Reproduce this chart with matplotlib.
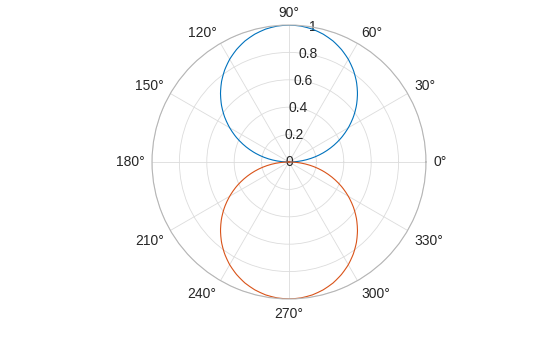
import numpy as np
import matplotlib
matplotlib.use('Agg')
import matplotlib.pyplot as plt

plt.rcParams['font.family'] = ['Liberation Sans', 'DejaVu Sans']

# angles in degrees, radius (upper lobe, 0..180)
deg_top = list(range(0, 181, 5))
r_top = [0, 0.087, 0.174, 0.259, 0.342, 0.423, 0.5, 0.574, 0.643, 0.707,
         0.766, 0.819, 0.866, 0.906, 0.94, 0.966, 0.985, 0.996, 1.0,
         0.996, 0.985, 0.966, 0.94, 0.906, 0.866, 0.819, 0.766, 0.707,
         0.643, 0.574, 0.5, 0.423, 0.342, 0.259, 0.174, 0.087, 0]

# lower lobe, 180..360
deg_bottom = list(range(180, 361, 5))
r_bottom = [0, 0.087, 0.174, 0.259, 0.342, 0.423, 0.5, 0.574, 0.643, 0.707,
            0.766, 0.819, 0.866, 0.906, 0.94, 0.966, 0.985, 0.996, 1.0,
            0.996, 0.985, 0.966, 0.94, 0.906, 0.866, 0.819, 0.766, 0.707,
            0.643, 0.574, 0.5, 0.423, 0.342, 0.259, 0.174, 0.087, 0]

theta_ticks = list(range(0, 360, 30))
r_ticks = [0, 0.2, 0.4, 0.6, 0.8, 1]
r_labels = ['0', '0.2', '0.4', '0.6', '0.8', '1']

fig = plt.figure(figsize=(5.6, 3.37), dpi=100)
ax = fig.add_axes([0.2714, 0.1128, 0.4893, 0.813], projection='polar')

l1, = ax.plot(np.radians(deg_top), r_top, color='#0072BD', lw=0.8)
l2, = ax.plot(np.radians(deg_bottom), r_bottom, color='#D95319', lw=0.8)
for ln in (l1, l2):
    ln.get_path()._interpolation_steps = 8

ax.set_ylim(0, 1)
ax.set_thetagrids(theta_ticks, [''] * len(theta_ticks))
# angle labels: box corner just outside the rim, like MATLAB
for t in theta_ticks:
    c, s = np.cos(np.radians(t)), np.sin(np.radians(t))
    ha = 'left' if c > 0.1 else ('right' if c < -0.1 else 'center')
    va = 'baseline' if s > 0.1 else ('top' if s < -0.1 else 'center')
    ax.text(np.radians(t), 1.055, f'{t}°', ha=ha, va=va,
            fontsize=10, color='#262626', clip_on=False)
ax.set_rticks(r_ticks)
ax.set_yticklabels(r_labels)
ax.set_rlabel_position(80)
ax.tick_params(axis='both', labelsize=10, colors='#262626')
ax.tick_params(axis='y', pad=0)
ax.grid(True, color='#dcdcdc', lw=0.6)
ax.spines['polar'].set_color('#b5b5b5')
ax.spines['polar'].set_linewidth(0.8)
for lbl in ax.get_yticklabels():
    lbl.set_horizontalalignment('center')
    lbl.set_verticalalignment('center')

fig.savefig('out.png', dpi=100)
